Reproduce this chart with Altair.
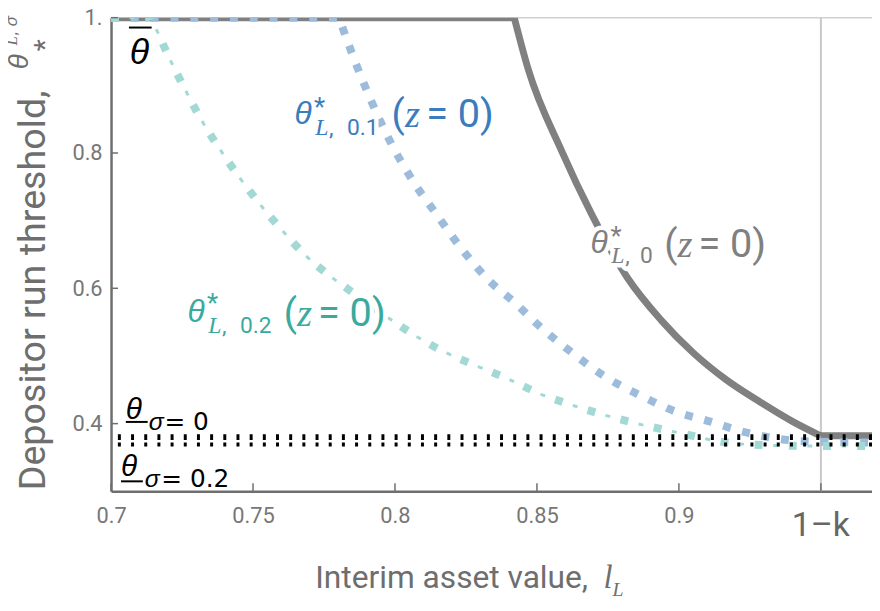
import altair as alt
import pandas as pd

# ---------------- data ----------------
gray_x = [0.700, 0.842, 0.8469, 0.8588, 0.8692, 0.8818, 0.8937, 0.9052, 0.9166, 0.9286, 0.9401, 0.9499, 0.968]
gray_y = [1.000, 1.000, 0.924, 0.802, 0.710, 0.616, 0.553, 0.504, 0.465, 0.432, 0.403, 0.382, 0.382]

blue_x = [0.700, 0.7803, 0.7813, 0.7893, 0.7988, 0.8064, 0.8145, 0.8239, 0.8330, 0.8424, 0.8504,
          0.8623, 0.8738, 0.8867, 0.8993, 0.9111, 0.9226, 0.9342, 0.9436, 0.968]
blue_y = [1.000, 1.000, 0.988, 0.900, 0.813, 0.758, 0.710, 0.656, 0.612, 0.578, 0.546,
          0.505, 0.470, 0.441, 0.417, 0.403, 0.388, 0.378, 0.374, 0.372]

teal_x = [0.700, 0.714, 0.7157, 0.7209, 0.7262, 0.7318, 0.7384, 0.7454, 0.7523, 0.7604, 0.7684,
          0.7778, 0.7824, 0.7988, 0.8075, 0.8179, 0.8295, 0.8399, 0.8511, 0.8633, 0.8853,
          0.8982, 0.9216, 0.946, 0.968]
teal_y = [1.000, 1.000, 0.985, 0.937, 0.893, 0.849, 0.805, 0.763, 0.725, 0.685, 0.649,
          0.616, 0.602, 0.553, 0.529, 0.505, 0.484, 0.466, 0.444, 0.426, 0.400,
          0.388, 0.370, 0.367, 0.367]

theta_bar = 1.0
theta_low_sigma0 = 0.380
theta_low_sigma02 = 0.369
one_minus_k = 0.95

x_ticks = [0.7, 0.75, 0.8, 0.85, 0.9]
y_ticks = [0.4, 0.6, 0.8, 1.0]

# ---------------- layout / style ----------------
XDOM = [0.7, 0.968]
YDOM = [0.3, 1.0]
W, H = 768, 478
AX = "#6e6e6e"
LBL = "#777777"
GRAY = "#808080"
BLUE_LINE = "#9dbcdc"
BLUE_TXT = "#3b7cbc"
TEAL_LINE = "#a3d9d5"
TEAL_TXT = "#3aaa9e"

xs = alt.Scale(domain=XDOM, nice=False, zero=False)
ys = alt.Scale(domain=YDOM, nice=False, zero=False)

xaxis = alt.Axis(values=x_ticks, labelExpr="format(datum.value, '~g')", tickSize=0,
                 domainColor=AX, domainWidth=2.5, labelColor=LBL, labelFont="Roboto",
                 labelFontSize=22, labelPadding=15, grid=False, title=None,
                 labelFlush=False, labelOverlap=False)
yaxis = alt.Axis(values=y_ticks, labelExpr="datum.value == 1 ? '1.' : format(datum.value, '~g')",
                 tickSize=0, domainColor=AX, domainWidth=2.5, labelColor=LBL, labelFont="Roboto",
                 labelFontSize=22, labelPadding=9, grid=False, title=None,
                 labelFlush=False, labelOverlap=False)


def X(f):
    return alt.X(f, type="quantitative", scale=xs, axis=xaxis)


def Y(f):
    return alt.Y(f, type="quantitative", scale=ys, axis=yaxis)


layers = []

# thin top frame line at theta_bar and vertical line at 1-k
layers.append(alt.Chart(pd.DataFrame({"y": [theta_bar]})).mark_rule(color="#d0d0d0", strokeWidth=1.5)
              .encode(y=Y("y")))
layers.append(alt.Chart(pd.DataFrame({"x": [one_minus_k]})).mark_rule(color="#c8c8c8", strokeWidth=2)
              .encode(x=X("x")))

# curves
gdf = pd.DataFrame({"x": gray_x, "y": gray_y})
bdf = pd.DataFrame({"x": blue_x, "y": blue_y})
tdf = pd.DataFrame({"x": teal_x, "y": teal_y})
g_top, g_bot = gray_x[1], gray_x[-2]
gbase = alt.Chart(gdf)
layers.append(gbase.transform_filter(alt.datum.x <= g_top)
              .mark_line(color=GRAY, strokeWidth=7, clip=True).encode(x=X("x"), y=Y("y")))
layers.append(gbase.transform_filter((alt.datum.x >= g_top) & (alt.datum.x <= g_bot))
              .mark_line(color=GRAY, strokeWidth=7, clip=True, interpolate="monotone",
                         strokeJoin="round").encode(x=X("x"), y=Y("y")))
layers.append(gbase.transform_filter(alt.datum.x >= g_bot)
              .mark_line(color=GRAY, strokeWidth=7, clip=True).encode(x=X("x"), y=Y("y")))
layers.append(alt.Chart(bdf).mark_line(color=BLUE_LINE, strokeWidth=8, strokeDash=[8, 12], clip=True,
                                       interpolate="monotone")
              .encode(x=X("x"), y=Y("y")))
layers.append(alt.Chart(tdf).mark_line(color=TEAL_LINE, strokeWidth=8, strokeDash=[8, 26.5], clip=True,
                                       interpolate="monotone")
              .encode(x=X("x"), y=Y("y")))
layers.append(alt.Chart(tdf).mark_line(color=TEAL_LINE, strokeWidth=3, strokeDash=[5, 29.5],
                                       strokeDashOffset=15.75, clip=True, interpolate="monotone")
              .encode(x=X("x"), y=Y("y")))

# dotted lower bounds
layers.append(alt.Chart(pd.DataFrame({"y": [theta_low_sigma0]}))
              .mark_rule(color="black", strokeWidth=6, strokeDash=[3, 10.3])
              .encode(y=Y("y")))
layers.append(alt.Chart(pd.DataFrame({"y": [theta_low_sigma02]}))
              .mark_rule(color="black", strokeWidth=4, strokeDash=[3, 10.3])
              .encode(y=Y("y")))

# inward ticks
layers.append(alt.Chart(pd.DataFrame({"v": x_ticks + [one_minus_k]}))
              .mark_rule(color=AX, strokeWidth=1.5)
              .encode(x=X("v"), y=alt.value(H), y2=alt.value(H - 8)))
layers.append(alt.Chart(pd.DataFrame({"v": y_ticks}))
              .mark_rule(color=AX, strokeWidth=1.5)
              .encode(y=Y("v"), x=alt.value(0), x2=alt.value(7)))

# ---------------- curve labels ----------------
pieces = [
    # blue  theta*_{L, 0.1} (z = 0)
    ("sans_it", "θ", 0.7646, 0.8433, 32, BLUE_TXT),
    ("sans", "*", 0.7715, 0.8550, 26, BLUE_TXT),
    ("serif_it", "L", 0.7719, 0.8272, 24, BLUE_TXT),
    ("sans", ",", 0.7768, 0.8272, 23, BLUE_TXT),
    ("sans", "0.1", 0.7831, 0.8272, 23, BLUE_TXT),
    ("sans", "(", 0.7988, 0.8389, 39, BLUE_TXT),
    ("serif_it", "z", 0.8035, 0.8389, 39, BLUE_TXT),
    ("sans", "= 0)", 0.8110, 0.8389, 40, BLUE_TXT),
    # gray  theta*_{L, 0} (z = 0)
    ("sans_it", "θ", 0.8689, 0.6529, 32, GRAY),
    ("sans", "*", 0.8759, 0.6647, 26, GRAY),
    ("serif_it", "L", 0.8762, 0.6368, 24, GRAY),
    ("sans", ",", 0.8811, 0.6368, 23, GRAY),
    ("sans", "0", 0.8863, 0.6368, 23, GRAY),
    ("sans", "(", 0.8948, 0.6456, 39, GRAY),
    ("serif_it", "z", 0.8995, 0.6456, 39, GRAY),
    ("sans", "= 0)", 0.9069, 0.6456, 40, GRAY),
    # teal  theta*_{L, 0.2} (z = 0)
    ("sans_it", "θ", 0.7269, 0.5504, 32, TEAL_TXT),
    ("sans", "*", 0.7338, 0.5651, 26, TEAL_TXT),
    ("serif_it", "L", 0.7342, 0.5343, 24, TEAL_TXT),
    ("sans", ",", 0.7391, 0.5343, 23, TEAL_TXT),
    ("sans", "0.2", 0.7454, 0.5343, 23, TEAL_TXT),
    ("sans", "(", 0.7608, 0.5446, 39, TEAL_TXT),
    ("serif_it", "z", 0.7655, 0.5446, 39, TEAL_TXT),
    ("sans", "= 0)", 0.7729, 0.5446, 40, TEAL_TXT),
]
black_pieces = [
    ("sans_it", "θ", 0.7066, 0.9312, 36, "black"),
    ("sans_it", "θ", 0.7052, 0.4069, 30, "black"),
    ("sans_it", "σ", 0.7133, 0.3908, 25, "black"),
    ("dv", "= 0", 0.7188, 0.3908, 25, "black"),
    ("sans_it", "θ", 0.7035, 0.3220, 30, "black"),
    ("sans_it", "σ", 0.7119, 0.3059, 25, "black"),
    ("dv", "= 0.2", 0.7177, 0.3059, 25, "black"),
]
bars = pd.DataFrame({"x": [0.7063, 0.7052, 0.7035], "x2": [0.7143, 0.7129, 0.7112],
                     "y": [0.9854, 0.4025, 0.3147]})

STYLES = {
    "sans": dict(font="Roboto", fontStyle="normal"),
    "sans_it": dict(font="Liberation Sans", fontStyle="italic"),
    "serif_it": dict(font="Liberation Serif", fontStyle="italic"),
    "dv": dict(font="DejaVu Sans", fontStyle="normal"),
}
cols = ["style", "text", "x", "y", "size", "color"]
pdf = pd.DataFrame(pieces, columns=cols)
kdf = pd.DataFrame(black_pieces, columns=cols)


def text_layer(df, style, halo=False):
    sub = df[df["style"] == style]
    kw = dict(align="left", baseline="alphabetic", **STYLES[style])
    if halo:
        kw.update(stroke="white", strokeWidth=9, strokeJoin="round")
    enc = dict(x=X("x"), y=Y("y"), text=alt.Text("text:N"),
               size=alt.Size("size:Q", scale=None, legend=None))
    if halo:
        enc["color"] = alt.value("white")
    else:
        enc["color"] = alt.Color("color:N", scale=None, legend=None)
    return alt.Chart(sub).mark_text(**kw).encode(**enc)


for st in ["sans", "sans_it", "serif_it"]:
    layers.append(text_layer(pdf, st, halo=True))
for st in ["sans", "sans_it", "serif_it"]:
    layers.append(text_layer(pdf, st))
for st in ["dv", "sans_it"]:
    layers.append(text_layer(kdf, st))
layers.append(alt.Chart(bars).mark_rule(color="black", strokeWidth=2)
              .encode(x=X("x"), x2="x2:Q", y=Y("y")))

# ---------------- axis titles and 1-k label ----------------
one = pd.DataFrame({"t": ["1–k"], "x": [one_minus_k]})
layers.append(alt.Chart(one).mark_text(font="Roboto", fontSize=34, color="#666666",
                                       align="center", baseline="alphabetic")
              .encode(x=X("x"), y=alt.value(523), text="t:N"))


def free_text(txt, px, py, size, font="Roboto", style="normal", color="#6e6e6e", angle=0):
    return (alt.Chart(pd.DataFrame({"t": [txt]}))
            .mark_text(font=font, fontStyle=style, fontSize=size, color=color,
                       align="left", baseline="alphabetic", angle=angle)
            .encode(x=alt.value(px), y=alt.value(py), text="t:N"))


# x title
layers.append(free_text("Interim asset value,", 206, 576, 32))
layers.append(free_text("l", 497, 576, 33, font="Liberation Serif", style="italic"))
layers.append(free_text("L", 506, 584, 20, font="Liberation Serif", style="italic"))
# y title (rotated)
layers.append(free_text("Depositor run threshold,", -67, 477, 38, angle=270))
layers.append(free_text("θ", -84, 52, 28, font="Liberation Sans", style="italic", angle=270))
layers.append(free_text("*", -58, 34, 28, angle=270))
layers.append(free_text("L", -95, 28, 17, font="Liberation Serif", style="italic", angle=270))
layers.append(free_text(",  σ", -95, 18, 17, font="Liberation Sans", style="italic", angle=270))

chart = alt.layer(*layers).properties(
    width=W, height=H,
    padding={"left": 104, "top": 7, "right": 0, "bottom": 110},
    autosize=alt.AutoSizeParams(type="none"),
).configure_view(stroke=None)

chart.save("out.html", embed_options={"renderer": "svg", "actions": False})
